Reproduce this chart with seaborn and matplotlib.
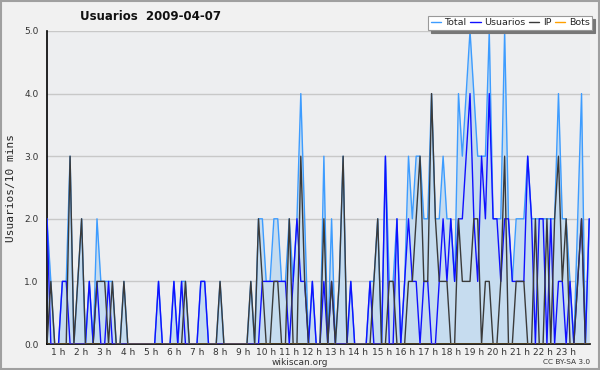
import matplotlib
matplotlib.use("Agg")
import matplotlib.pyplot as plt
import seaborn as sns
import numpy as np
import pandas as pd
from matplotlib.patches import Rectangle

# 10-minute slots
total = [2,1,0,0,1,1,3,0,1,2,0,1,0,2,1,1,1,1,0,0,
         1,0,0,0,0,0,0,0,0,1,0,0,0,1,0,1,1,0,0,0,
         1,1,0,0,0,1,0,0,0,0,0,0,0,1,0,2,2,1,1,2,
         2,1,1,2,1,2,4,2,0,1,0,0,3,0,2,0,1,3,0,1,
         0,0,0,0,1,1,2,0,3,1,1,2,0,1,3,2,3,3,2,2,
         4,2,2,3,2,2,1,4,3,4,5,4,3,3,3,5,2,2,2,5,
         2,1,2,2,2,3,2,2,2,2,2,2,2,4,2,2,1,0,2,4,
         0,2]
usuarios = [2,0,0,0,1,1,0,0,0,0,0,1,0,1,0,0,1,0,0,0,
            0,0,0,0,0,0,0,0,0,1,0,0,0,1,0,1,0,0,0,0,
            1,1,0,0,0,0,0,0,0,0,0,0,0,0,0,0,1,1,1,1,
            1,1,1,0,1,2,1,1,0,1,0,0,1,0,1,0,0,0,0,1,
            0,0,0,0,1,0,0,0,3,0,0,2,0,1,2,1,1,0,1,1,
            0,0,1,2,1,2,1,2,2,3,4,2,1,3,2,4,2,2,1,2,
            2,1,1,1,1,3,2,0,2,2,0,2,0,1,1,0,1,0,1,2,
            0,2]
ip = [0,1,0,0,0,0,3,0,1,2,0,0,0,1,1,1,0,1,0,0,
      1,0,0,0,0,0,0,0,0,0,0,0,0,0,0,0,1,0,0,0,
      0,0,0,0,0,1,0,0,0,0,0,0,0,1,0,2,1,0,0,1,
      1,0,0,2,0,0,3,1,0,0,0,0,2,0,1,0,1,3,0,0,
      0,0,0,0,0,1,2,0,0,1,1,0,0,0,1,1,2,3,1,1,
      4,2,1,1,1,0,0,2,1,1,1,2,2,0,1,1,0,0,1,3,
      0,0,1,1,1,0,0,2,0,0,2,0,2,3,1,2,0,0,1,2,
      0,0]
bots = [0] * len(total)
hour_labels = [f"{h} h" for h in range(1, 24)]

slots = np.arange(len(total))
df = pd.DataFrame({"slot": slots, "Total": total, "Usuarios": usuarios,
                   "IP": ip, "Bots": bots})

sns.set_style("white")
plt.rcParams["font.family"] = ["DejaVu Sans"]

fig = plt.figure(figsize=(6.0, 3.7), dpi=100, facecolor="#f1f1f1")
ax = fig.add_axes([47/600, 1-344/370, (590-47)/600, (344-31)/370])
ax.set_facecolor("#edeef0")

ax.fill_between(df["slot"], df["Total"], 0, color="#c6dcef", linewidth=0, zorder=1)
colors = {"Total": "#3d9cff", "Usuarios": "#1010ff", "IP": "#3a3a3a", "Bots": "#ffa000"}
for name in ["Total", "Usuarios", "IP", "Bots"]:
    sns.lineplot(data=df, x="slot", y=name, ax=ax, color=colors[name],
                 linewidth=1.0, label=name, zorder=3)

ax.set_xlim(0, len(total) - 0.8)
ax.set_ylim(0, 5)
ax.yaxis.grid(True, color="#c8c8c8", linewidth=1)
ax.set_axisbelow(True)
ax.set_yticks(np.arange(0, 5.01, 1.0))
ax.set_yticklabels([f"{v:.1f}" for v in np.arange(0, 5.01, 1.0)], fontsize=6.5, color="#333333")
ax.set_yticks(np.arange(0, 5.01, 0.25), minor=True)
ax.tick_params(axis="y", which="major", length=5, width=1, pad=1, color="black")
ax.tick_params(axis="y", which="minor", length=3, width=1, color="black")

label_pos = [6*h - 3 for h in range(1, 24)]
ax.set_xticks(label_pos)
ax.set_xticklabels(hour_labels, fontsize=6.5, color="#333333")
ax.set_xticks(slots, minor=True)
ax.tick_params(axis="x", which="major", length=3, width=1, pad=0, color="black")
ax.tick_params(axis="x", which="minor", length=3, width=1, color="black")

for s in ["top", "right"]:
    ax.spines[s].set_visible(False)
for s in ["left", "bottom"]:
    ax.spines[s].set_color("black")
    ax.spines[s].set_linewidth(1.2)

ax.set_xlabel("")
ax.set_ylabel("Usuarios/10 mins", fontsize=8, family="DejaVu Sans Mono", labelpad=6)

leg = ax.legend(loc="upper right", bbox_to_anchor=(592/600, 1-16/370),
                bbox_transform=fig.transFigure, ncol=4, fontsize=6.8,
                frameon=True, fancybox=False, shadow={"color": "#777777", "alpha": 1},
                handlelength=1.1, handletextpad=0.35, columnspacing=0.4,
                borderpad=0.25, borderaxespad=0)
leg.get_frame().set_edgecolor("#999999")
leg.get_frame().set_facecolor("white")
leg.get_frame().set_linewidth(0.8)
leg.set_zorder(10)

fig.text(151/600, 1-16/370, "Usuarios  2009-04-07", ha="center", va="center",
         fontsize=8.5, fontweight="bold", color="#111111")
fig.text(300/600, 1-362.5/370, "wikiscan.org", ha="center", va="center",
         fontsize=6.5, color="#333333")
fig.text(590/600, 1-362.5/370, "CC BY-SA 3.0", ha="right", va="center",
         fontsize=5.3, color="#333333")

fig.patches.append(Rectangle((0.001, 0.002), 0.997, 0.995, transform=fig.transFigure,
                             fill=False, edgecolor="#a0a0a0", linewidth=1.5))

fig.savefig("out.png", dpi=100, facecolor=fig.get_facecolor())
